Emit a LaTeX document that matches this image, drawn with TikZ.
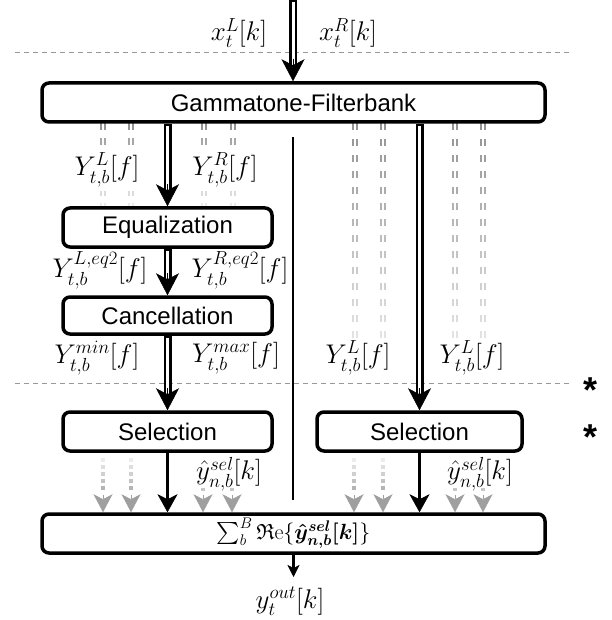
\RequirePackage{fix-cm}
\documentclass[tikz,border=0pt]{standalone}
\usepackage{amsmath,amssymb,bm}
\usepackage[no-math]{fontspec}
\setmainfont{Liberation Sans}
\usetikzlibrary{arrows.meta}
\newcommand\dblarr[2]{%
  \draw[dblo] (#1) -- ([yshift=12pt]#2);
  \draw[dbli] ([yshift=-2pt]#1) -- ([yshift=16pt]#2);
  \draw[headb] ([yshift=22pt]#2) -- (#2);}
\begin{document}
\begin{tikzpicture}[x=1pt,y=-1pt,
  box/.style={draw,line width=3.5pt,rounded corners=7pt,inner sep=0pt,font=\fontsize{24}{28}\selectfont},
  lbl/.style={inner sep=0pt,font=\fontsize{27}{32}\selectfont},
  sepline/.style={draw=gray!80,line width=1pt,dash pattern=on 5pt off 4pt},
  dblo/.style={line width=8pt},
  dbli/.style={white,line width=3pt},
  headb/.style={line width=0.5pt,-{Stealth[length=22pt,width=23pt,inset=6pt]}},
  sarr/.style={line width=3pt,-{Stealth[length=18pt,width=20pt,inset=5pt,line width=0.5pt]}},
  oarr/.style={line width=3pt,-{Stealth[length=12pt,width=12pt,inset=3pt,line width=0.5pt]}},
  gd/.style={line width=2pt,double=white,double distance=2pt},
  gsq/.style={line width=4pt},
  ghead/.style={draw=gray!75,line width=0.5pt,-{Stealth[length=18pt,width=19pt,inset=5pt]}},
  starlbl/.style={inner sep=0pt,anchor=base,font=\bfseries\fontsize{36}{40}\selectfont},
  thinline/.style={line width=1.2pt}]
\useasboundingbox (0,0) rectangle (611,620);

% separators
\coordinate (s1a) at (15,53); \coordinate (s1b) at (570,53);
\coordinate (s2a) at (15,383); \coordinate (s2b) at (570,383);
\draw[sepline] (s1a) -- (s1b);
\draw[sepline] (s2a) -- (s2b);

% thin vertical divider
\coordinate (v1) at (293,137); \coordinate (v2) at (293,500);
\draw[thinline] (v1) -- (v2);

% gray dashed pairs, left half
\foreach \x in {103,131,204,233} {
  \draw[gd,draw=gray!85] (\x,123) -- (\x,130);
  \draw[gd,draw=gray!70] (\x,138) -- (\x,145);
  \draw[gd,draw=gray!28] (\x,191) -- (\x,196);
  \draw[gd,draw=gray!16] (\x,203) -- (\x,207);
}
% gray dashed pairs, right half (fading)
\foreach \x in {355,383,455,483} {
  \foreach \i in {0,...,13} {
    \pgfmathsetmacro\cc{85-4.8*\i}
    \draw[gd,draw=gray!\cc] (\x,{123+16*\i}) -- (\x,{130+16*\i});
  }
}

% boxes
\node[box,minimum width=503pt,minimum height=39pt] (gf) at (293.5,102.5) {Gammatone-Filterbank};
\node[box,minimum width=209pt,minimum height=39pt] (eq) at (167.5,227.5) {Equalization};
\node[box,minimum width=209pt,minimum height=37pt] (ca) at (167.5,315.5) {Cancellation};
\node[box,minimum width=209pt,minimum height=39pt] (sl) at (167.5,431.5) {Selection};
\node[box,minimum width=205pt,minimum height=39pt] (sr) at (419.5,431.5) {Selection};
\node[box,minimum width=503pt,minimum height=39pt,font=\fontsize{22}{26}\selectfont] (sum) at (293.5,533.5)
  {$\sum_b^B \mathfrak{R}\mathrm{e}\{\bm{\hat{y}^{sel}_{n,b}[k]}\}$};

% labels
\node[lbl] (xl) at (239,33) {$x_t^L[k]$};
\node[lbl] (xr) at (348,33) {$x_t^R[k]$};
\node[lbl] (yl) at (107,170) {$Y_{t,b}^L[f]$};
\node[lbl] (yr) at (225,170) {$Y_{t,b}^R[f]$};
\node[lbl] (yle) at (100,270) {$Y_{t,b}^{L,eq2}[f]$};
\node[lbl] (yre) at (240,270) {$Y_{t,b}^{R,eq2}[f]$};
\node[lbl] (ymin) at (97,358) {$Y_{t,b}^{min}[f]$};
\node[lbl] (ymax) at (236,358) {$Y_{t,b}^{max}[f]$};
\node[lbl] (yl2) at (358,358) {$Y_{t,b}^L[f]$};
\node[lbl] (yl3) at (472,358) {$Y_{t,b}^L[f]$};
\node[lbl] (ysl) at (229,474) {$\hat{y}_{n,b}^{sel}[k]$};
\node[lbl] (ysr) at (480,474) {$\hat{y}_{n,b}^{sel}[k]$};
\node[lbl] (out) at (290,601) {$y_t^{out}[k]$};

% stars
\node[starlbl] (st1) at (590,402) {*};
\node[starlbl] (st2) at (590,449) {*};

% double arrows
\coordinate (in) at (293,0);
\coordinate (t0) at (in |- gf.north);
\dblarr{in}{t0}
\coordinate (a1) at (gf.south -| eq.north);
\dblarr{a1}{eq.north}
\dblarr{eq.south}{ca.north}
\dblarr{ca.south}{sl.north}
\coordinate (a2) at (gf.south -| sr.north);
\dblarr{a2}{sr.north}

% single arrows
\draw[sarr] (sl.south) -- (sl.south |- sum.north);
\draw[sarr] (sr.south) -- (sr.south |- sum.north);
\coordinate (oe) at (293,577);
\draw[oarr] (sum.south) -- (sum.south |- oe);

% gray dotted arrows into the sum box
\foreach \x in {103,131,354,383} {
  \foreach \i in {0,...,4} {
    \pgfmathsetmacro\cc{15+11*\i}
    \draw[gsq,draw=gray!\cc] (\x,{458+7*\i}) -- (\x,{462+7*\i});
  }
  \draw[ghead] (\x,495) -- (\x,0 |- sum.north);
}
\foreach \x in {203,232,455,483} {
  \draw[gsq,draw=gray!45] (\x,488) -- (\x,491);
  \draw[ghead] (\x,495) -- (\x,0 |- sum.north);
}
\end{tikzpicture}
\end{document}
